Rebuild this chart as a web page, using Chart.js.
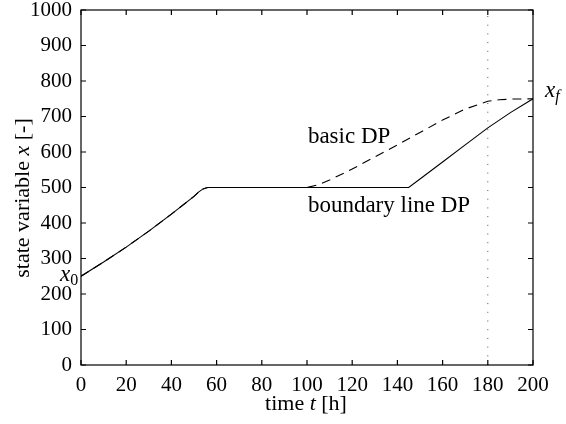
<!DOCTYPE html>
<html>
<head>
<meta charset="utf-8">
<script src="https://cdn.jsdelivr.net/npm/chart.js@4"></script>
<style>
html, body { margin: 0; padding: 0; background: #fff; }
#wrap { width: 566px; height: 424px; }
</style>
</head>
<body>
<div id="wrap"><canvas id="dpChart"></canvas></div>
<script>
// boundary line DP (solid)
var timeBoundary = [0, 10, 20, 30, 40, 50, 52, 54, 56, 100, 145, 150, 160, 170, 180, 190, 200];
var stateBoundary = [250, 290, 332, 377, 425, 475, 487, 496, 500, 500, 500, 524, 572, 620, 668, 711, 750];
// basic DP (dashed)
var timeBasic = [0, 10, 20, 30, 40, 50, 52, 54, 56, 100, 105, 110, 120, 130, 140, 150, 160, 170, 180, 185, 190, 200];
var stateBasic = [250, 290, 332, 377, 425, 475, 487, 496, 500, 500, 508, 521, 552, 586, 620, 655, 690, 721, 743, 747, 749, 750];
// final time marker (dotted)
var timeMarker = [180, 180];
var stateMarker = [0, 1000];

var xTickValues = [0, 20, 40, 60, 80, 100, 120, 140, 160, 180, 200];
var yTickValues = [0, 100, 200, 300, 400, 500, 600, 700, 800, 900, 1000];

function toPoints(xs, ys) {
    return xs.map(function (x, i) { return { x: x, y: ys[i] }; });
}

var serif = "'Liberation Serif', 'Times New Roman', serif";
Chart.defaults.font.family = serif;

// parts: [text, italic, size, dy]
function drawMixed(ctx, parts, x, y, center) {
    var widths = parts.map(function (p) {
        ctx.font = (p[1] ? 'italic ' : '') + p[2] + 'px ' + serif;
        return ctx.measureText(p[0]).width;
    });
    var total = widths.reduce(function (a, b) { return a + b; }, 0);
    var cx = center ? x - total / 2 : x;
    parts.forEach(function (p, i) {
        ctx.font = (p[1] ? 'italic ' : '') + p[2] + 'px ' + serif;
        ctx.fillText(p[0], cx, y + (p[3] || 0));
        cx += widths[i];
    });
}

var frame = {
    id: 'frame',
    afterDatasetsDraw: function (chart) {
        var ctx = chart.ctx, a = chart.chartArea;
        var xs = chart.scales.x, ys = chart.scales.y;
        ctx.save();
        ctx.strokeStyle = '#000';
        ctx.lineWidth = 1.2;
        ctx.strokeRect(a.left, a.top, a.right - a.left, a.bottom - a.top);
        ctx.beginPath();
        xs.ticks.forEach(function (t) {
            var p = xs.getPixelForValue(t.value);
            ctx.moveTo(p, a.bottom); ctx.lineTo(p, a.bottom - 5);
            ctx.moveTo(p, a.top); ctx.lineTo(p, a.top + 5);
        });
        ys.ticks.forEach(function (t) {
            var p = ys.getPixelForValue(t.value);
            ctx.moveTo(a.left, p); ctx.lineTo(a.left + 5, p);
            ctx.moveTo(a.right, p); ctx.lineTo(a.right - 5, p);
        });
        ctx.stroke();

        ctx.fillStyle = '#000';
        ctx.textBaseline = 'alphabetic';
        ctx.textAlign = 'left';
        drawMixed(ctx, [['basic DP', false, 23]], xs.getPixelForValue(100.4), ys.getPixelForValue(625));
        drawMixed(ctx, [['boundary line DP', false, 23]], xs.getPixelForValue(100.4), ys.getPixelForValue(431));
        drawMixed(ctx, [['x', true, 23], ['0', false, 16, 4]], xs.getPixelForValue(-9.3), ys.getPixelForValue(236));
        drawMixed(ctx, [['x', true, 23], ['f', true, 16, 4]], xs.getPixelForValue(205.3), ys.getPixelForValue(755));

        // axis titles
        drawMixed(ctx, [['time ', false, 22], ['t', true, 22], [' [h]', false, 22]], 306, 410, true);
        ctx.translate(29, 198);
        ctx.rotate(-Math.PI / 2);
        drawMixed(ctx, [['state variable ', false, 22], ['x', true, 22], [' [-]', false, 22]], 0, 0, true);
        ctx.restore();
    }
};

var ctx = document.getElementById('dpChart').getContext('2d');
var myChart = new Chart(ctx, {
    type: 'line',
    data: {
        datasets: [{
            label: 'boundary line DP',
            data: toPoints(timeBoundary, stateBoundary),
            borderColor: '#000',
            borderWidth: 1.1,
            pointRadius: 0,
            tension: 0,
            fill: false
        }, {
            label: 'basic DP',
            data: toPoints(timeBasic, stateBasic),
            borderColor: '#000',
            borderWidth: 1.1,
            borderDash: [9, 6],
            pointRadius: 0,
            tension: 0,
            fill: false
        }, {
            label: 'final time',
            data: toPoints(timeMarker, stateMarker),
            borderColor: '#555',
            borderWidth: 1,
            borderDash: [1, 7.7],
            pointRadius: 0,
            fill: false
        }]
    },
    options: {
        responsive: true,
        maintainAspectRatio: false,
        animation: false,
        layout: { padding: { top: 10, right: 33, left: 0, bottom: 0 } },
        plugins: { legend: { display: false }, tooltip: { enabled: false } },
        scales: {
            x: {
                type: 'linear',
                min: 0,
                max: 200,
                grid: { display: false, drawTicks: false },
                border: { display: false },
                ticks: {
                    color: '#000', padding: 8, font: { family: serif, size: 21 },
                    callback: function (v) { return String(v); }
                },
                afterBuildTicks: function (s) { s.ticks = xTickValues.map(function (v) { return { value: v }; }); },
                afterFit: function (s) { s.height = 59; s.paddingLeft = 0; s.paddingRight = 0; }
            },
            y: {
                min: 0,
                max: 1000,
                grid: { display: false, drawTicks: false },
                border: { display: false },
                ticks: {
                    color: '#000', padding: 9, font: { family: serif, size: 21 },
                    callback: function (v) { return String(v); }
                },
                afterBuildTicks: function (s) { s.ticks = yTickValues.map(function (v) { return { value: v }; }); },
                afterFit: function (s) { s.width = 81; s.paddingTop = 0; s.paddingBottom = 0; }
            }
        }
    },
    plugins: [frame]
});
</script>
</body>
</html>
